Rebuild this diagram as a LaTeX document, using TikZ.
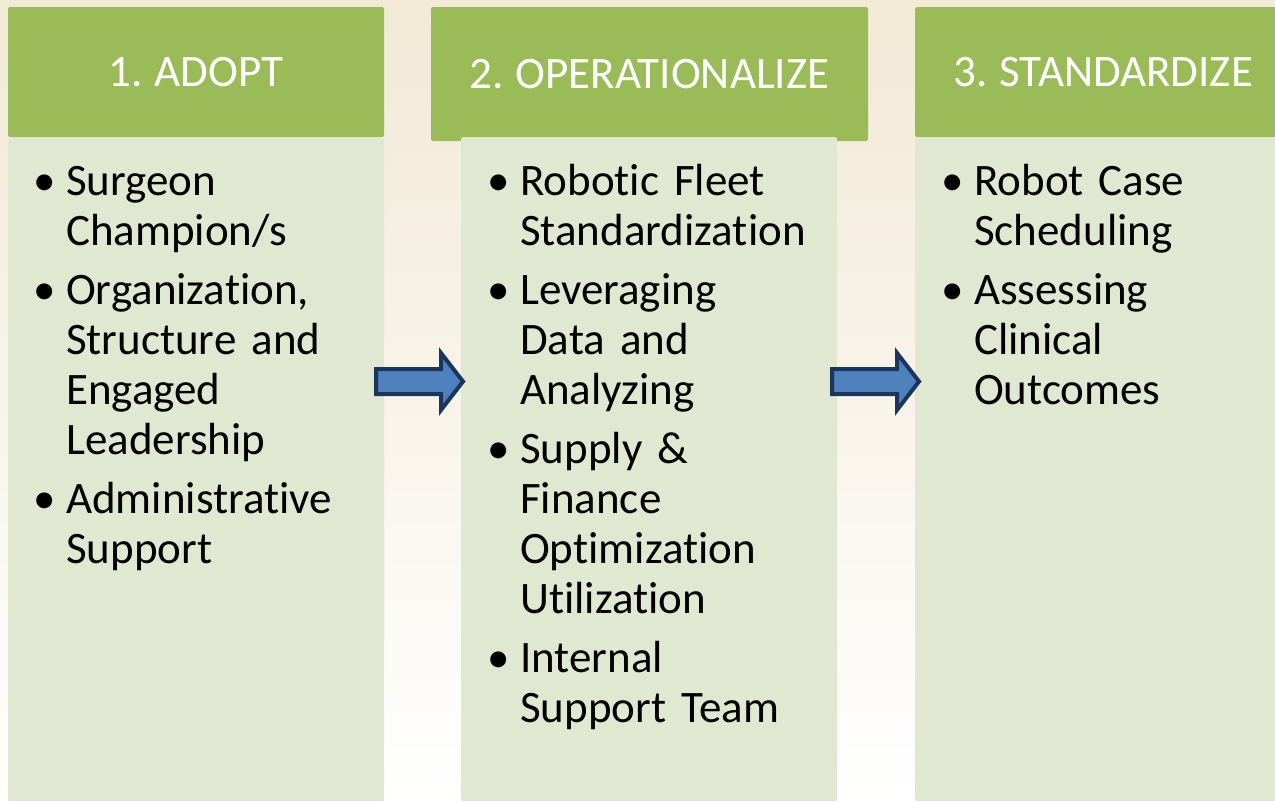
\documentclass[tikz,border=0pt]{standalone}
\usepackage{fontspec}
\setmainfont{Carlito}[Ligatures=NoCommon, WordSpace=0.85]
\usetikzlibrary{positioning}
\definecolor{hdrgreen}{HTML}{9BBB59}
\definecolor{bodygreen}{HTML}{E0E8D2}
\definecolor{arrowblue}{HTML}{4F81BD}
\definecolor{arrowline}{HTML}{1B365D}
\definecolor{paper}{HTML}{F2E9D6}
\definecolor{papermid}{HTML}{FBF7EE}
\newcommand{\bitem}[1]{\noindent\hangindent=33pt\hangafter=1\strut\makebox[33pt][l]{\textbullet}#1\par}
\newcommand{\itemgap}{\vspace{9pt}}
\begin{document}
\begin{tikzpicture}[x=1pt,y=-1pt]

    \tikzset{
      header/.style={
        fill=hdrgreen,
        rounded corners=2pt,
        inner sep=0pt,
        text=white,
        font=\fontsize{45}{50}\selectfont,
      },
      panel/.style={
        fill=bodygreen,
        rounded corners=2pt,
        inner sep=0pt,
        minimum width=376pt,
        minimum height=664pt,
        anchor=north west,
      },
      items/.style={
        inner sep=0pt,
        text width=340pt,
        font=\fontsize{45}{50}\selectfont,
      },
      blockarrow/.style={
        fill=arrowblue,
        draw=arrowline,
        line width=4pt,
      },
    }
    \useasboundingbox (0,0) rectangle (1275,801);
    \clip (0,0) rectangle (1275,801);
    \shade[top color=paper, middle color=papermid, bottom color=white] (0,0) rectangle (1275,801);

	% headers
	\node[header, minimum width=376pt, minimum height=130pt] (adopt) at (196,72) {1. ADOPT};
	\node[header, minimum width=437pt, minimum height=134pt] (oper) at (649.5,74) {2. OPERATIONALIZE};
	\node[header, minimum width=376pt, minimum height=130pt, anchor=north west] (stand) at (915,7) {3. STANDARDIZE};

	% panels
	\node[panel] (adoptbox) at (8,137) {};
	\node[panel] (operbox) at (461,137) {};
	\node[panel] (standbox) at (915,137) {};

	\node[items, below right=23pt and 25pt of adoptbox.north west] (adoptlist) {%
	  \bitem{Surgeon\newline Champion/s}\itemgap
	  \bitem{Organization,\newline Structure and\newline Engaged\newline Leadership}\itemgap
	  \bitem{Administrative\newline Support}};
	\node[items, below right=23pt and 26pt of operbox.north west] (operlist) {%
	  \bitem{Robotic Fleet\newline Standardization}\itemgap
	  \bitem{Leveraging\newline Data and\newline Analyzing}\itemgap
	  \bitem{Supply \&\newline Finance\newline Optimization\newline Utilization}\itemgap
	  \bitem{Internal\newline Support Team}};
	\node[items, below right=23pt and 26pt of standbox.north west] (standlist) {%
	  \bitem{Robot Case\newline Scheduling}\itemgap
	  \bitem{Assessing\newline Clinical\newline Outcomes}};

	% arrows between the panels
	\foreach \dx in {0,456}
	  \draw[blockarrow] ({376+\dx},369) -- ({441+\dx},369) -- ({441+\dx},353) -- ({463+\dx},381.5)
	    -- ({441+\dx},410) -- ({441+\dx},394) -- ({376+\dx},394) -- cycle;

\end{tikzpicture}
\end{document}
